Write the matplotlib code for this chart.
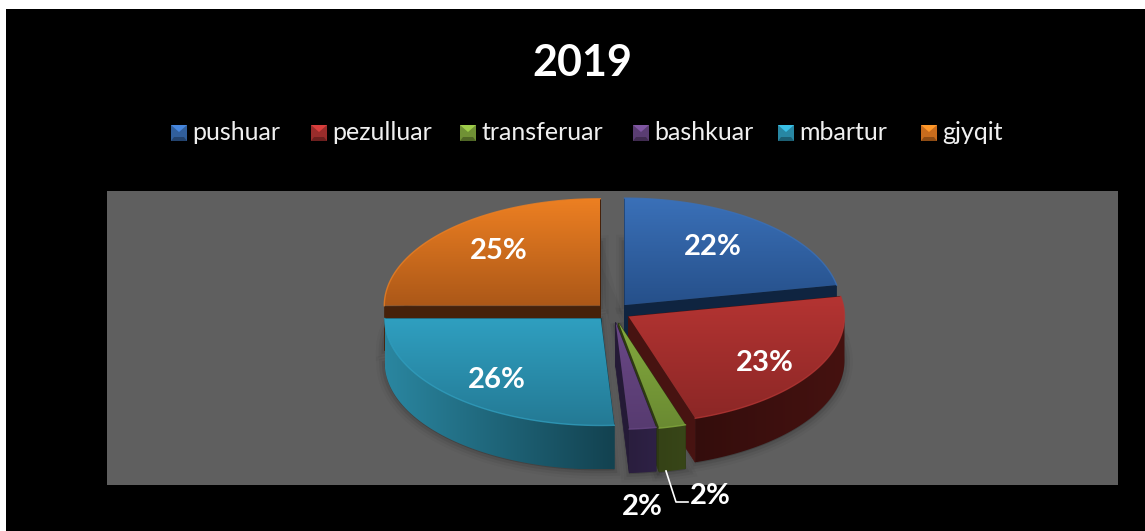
import numpy as np
import matplotlib
matplotlib.use('Agg')
import matplotlib.pyplot as plt
from matplotlib.path import Path
from matplotlib.patches import Rectangle, Polygon

plt.rcParams['font.family'] = ['Lato', 'DejaVu Sans']

title = '2019'
categories = ['pushuar', 'pezulluar', 'transferuar', 'bashkuar', 'mbartur', 'gjyqit']
values = [22, 23, 2, 2, 26, 25]
labels = ['22%', '23%', '2%', '2%', '26%', '25%']

# top gradient (upper, lower), wall gradient (left, right), cut face
top_colors = [('#3A70B8', '#26508A'), ('#B43432', '#8C2726'), ('#84AA3E', '#6A8A32'),
              ('#6A4886', '#573B70'), ('#2F9FC0', '#247A95'), ('#EC7F22', '#AC5818')]
wall_colors = [('#14304F', '#14304F'), ('#340D0C', '#451210'), ('#354216', '#384618'),
               ('#2A1E3E', '#2E2145'), ('#2A86A0', '#134250'), ('#46210A', '#46210A')]
cut_colors = ['#0F2440', '#471311', '#2E3A12', '#241A36', '#134250', '#46210A']
legend_colors = ['#3A70B8', '#B43432', '#84AA3E', '#6A4886', '#2F9FC0', '#EC7F22']

# pie layout, in pixels
cx, cy = 613, 312
rx, ry = 216, 107
depth = 44
explode = [18, 18, 23, 21, 18, 18]
draw_order = [5, 0, 4, 1, 2, 3]

fig = plt.figure(figsize=(11.45, 5.31), dpi=100, facecolor='white')
ax = fig.add_axes([0, 0, 1, 1])
ax.set_xlim(0, 1145)
ax.set_ylim(531, 0)
ax.axis('off')
ax.set_autoscale_on(False)

ax.add_patch(Rectangle((6, 9), 1139, 522, fc='black', ec='none', zorder=0))
ax.add_patch(Rectangle((107, 191), 1011, 294, fc='#5F5F5F', ec='none', zorder=0.5))


def rgb(c):
    return np.array(matplotlib.colors.to_rgb(c))


z = [1]


def shaded(pts, c0, c1, vertical=True):
    # polygon filled with a linear gradient
    pts = np.array(pts)
    t = np.linspace(0, 1, 64)
    ramp = np.outer(1 - t, rgb(c0)) + np.outer(t, rgb(c1))
    img = ramp[:, None, :] if vertical else ramp[None, :, :]
    x0, y0 = pts.min(axis=0)
    x1, y1 = pts.max(axis=0)
    im = ax.imshow(img, extent=(x0, x1, y1, y0), aspect='auto', interpolation='bilinear', zorder=z[0])
    im.set_clip_path(Path(np.vstack([pts, pts[0]]), closed=True), transform=ax.transData)
    z[0] += 1


def rim(a, x, y):
    return np.column_stack([x + rx * np.cos(a), y - ry * np.sin(a)])


# angles, clockwise from twelve o'clock
edges = np.pi / 2 - np.cumsum([0] + values) / sum(values) * 2 * np.pi
slices = []
for i in range(len(values)):
    a0, a1 = edges[i], edges[i + 1]
    mid = (a0 + a1) / 2
    slices.append((a0, a1, cx + explode[i] * np.cos(mid), cy - explode[i] * np.sin(mid) * ry / rx))

# soft shadow behind the pie
for grow, alpha in [(6, 0.03), (4, 0.05), (2, 0.07)]:
    for a0, a1, x, y in slices:
        arc = rim(np.linspace(a0, a1, 60), x, y + depth + 1)
        ax.add_patch(Polygon(np.vstack([[x, y + 1], arc]), closed=True, fc='black', ec='black',
                             lw=grow * 2, alpha=alpha, zorder=0.6))

for i in draw_order:
    a0, a1, x, y = slices[i]
    # flat cut faces
    for a in (a0, a1):
        p = rim(np.array([a]), x, y)[0]
        ax.add_patch(Polygon([(x, y), p, p + (0, depth), (x, y + depth)], closed=True,
                             fc=cut_colors[i], ec=cut_colors[i], lw=0.5, zorder=z[0]))
        z[0] += 1
    # outer wall, front half only
    lo, hi = max(a1, -np.pi), min(a0, 0)
    if hi > lo:
        arc = rim(np.linspace(lo, hi, 60), x, y)
        wall = np.vstack([arc, (arc + (0, depth))[::-1]])
        shaded(wall, wall_colors[i][0], wall_colors[i][1], vertical=False)
    # top face
    arc = rim(np.linspace(a0, a1, 120), x, y)
    top = np.vstack([[x, y], arc])
    shaded(top, top_colors[i][0], top_colors[i][1])
    ax.plot(arc[:, 0], arc[:, 1], color=top_colors[i][0], lw=1, alpha=0.8, zorder=z[0])
    z[0] += 1

# data labels
label_x = [713, 765, 710, 642, 497, 499]
label_y = [247, 363, 496, 507, 380, 251]
for s, x, y in zip(labels, label_x, label_y):
    ax.text(x, y, s, color='white', fontsize=21, fontweight='bold', ha='center', va='center', zorder=z[0] + 1)

# leader line for the transferuar label
ax.plot([666, 676, 688], [471, 502, 502], color='white', lw=1.2, zorder=z[0])

ax.text(582, 63, title, color='white', fontsize=31, fontweight='bold', ha='center', va='center', zorder=z[0])

# legend
legend_x = [171, 311, 460, 633, 778, 921]
for name, c, x in zip(categories, legend_colors, legend_x):
    base = rgb(c)
    ax.add_patch(Rectangle((x, 125), 16, 16, fc=base * 0.85, ec='none', zorder=z[0]))
    ax.add_patch(Polygon([(x, 141), (x + 16, 141), (x + 13, 137), (x + 3, 137)], closed=True, fc=base * 0.6,
                         ec='none', zorder=z[0]))
    ax.add_patch(Polygon([(x, 125), (x + 16, 125), (x + 8, 132)], closed=True, fc=np.minimum(base * 1.2, 1),
                         ec='none', zorder=z[0]))
    ax.text(x + 21, 133, name, color='#F0F0F0', fontsize=18, ha='left', va='center', zorder=z[0])

fig.savefig('out.png', dpi=100, facecolor='white')
